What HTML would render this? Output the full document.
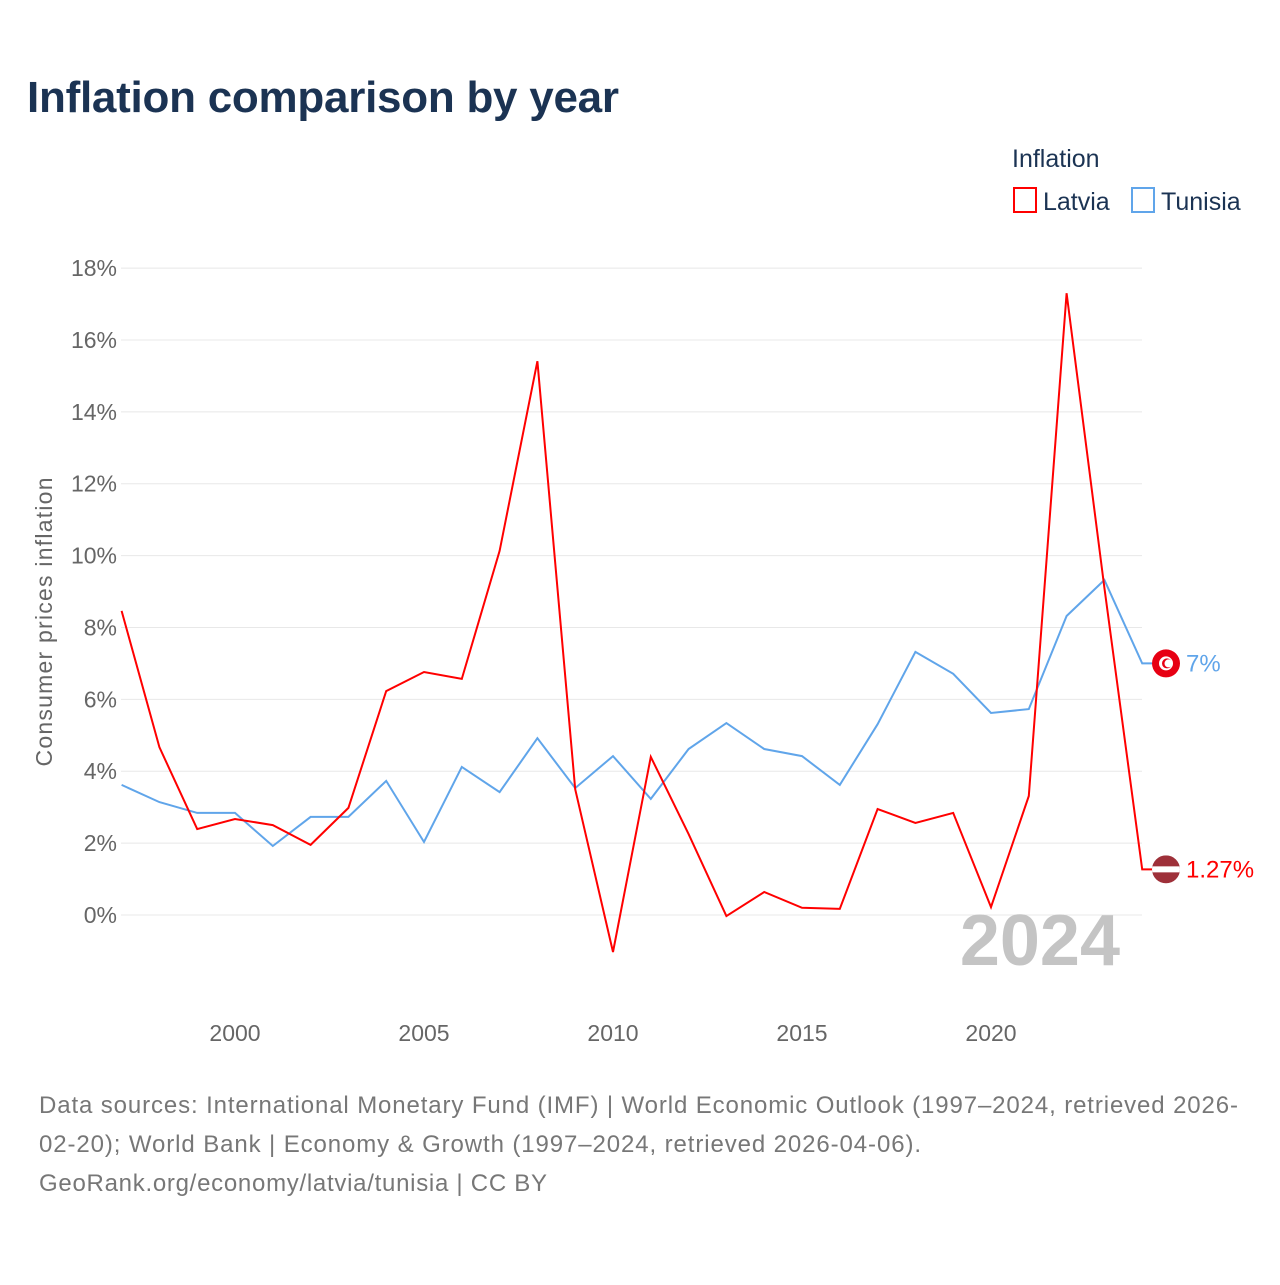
<!DOCTYPE html>
<html><head><meta charset="utf-8"><style>
body{margin:0;background:#fff;font-family:"Liberation Sans",sans-serif;}
svg text{font-family:"Liberation Sans",sans-serif;}
</style></head><body>
<svg id="chart" width="1280" height="1280" viewBox="0 0 1280 1280">
<rect width="1280" height="1280" fill="#fff"/>
<text x="27" y="112" font-size="44" font-weight="bold" fill="#1b3353" textLength="592">Inflation comparison by year</text>
<text x="1012" y="167" font-size="25" fill="#1b3353">Inflation</text>
<g><rect x="1014" y="188" width="22" height="24" fill="none" stroke="#ff0000" stroke-width="2"/><text x="1043" y="210" font-size="25" fill="#1b3353">Latvia</text></g>
<g><rect x="1132" y="188" width="22" height="24" fill="none" stroke="#60a5ea" stroke-width="2"/><text x="1161" y="210" font-size="25" fill="#1b3353">Tunisia</text></g>
<g id="grid"></g><g id="xaxis"></g><g id="series"></g>
<text x="52" y="622" font-size="23" fill="#666" transform="rotate(-90 52 622)" text-anchor="middle" textLength="289">Consumer prices inflation</text>
<text x="1120" y="965" font-size="72" font-weight="bold" fill="#c4c4c4" text-anchor="end">2024</text>
<g font-size="24" fill="#777">
<text x="39" y="1113" textLength="1199">Data sources: International Monetary Fund (IMF) | World Economic Outlook (1997–2024, retrieved 2026-</text>
<text x="39" y="1152" textLength="882">02-20); World Bank | Economy &amp; Growth (1997–2024, retrieved 2026-04-06).</text>
<text x="39" y="1191" textLength="508">GeoRank.org/economy/latvia/tunisia | CC BY</text>
</g>
</svg>
<script>
const years=[];for(let y=1997;y<=2024;y++)years.push(y);
const latvia=[8.46,4.67,2.39,2.67,2.5,1.95,2.98,6.23,6.76,6.57,10.13,15.41,3.5,-1.03,4.4,2.25,-0.03,0.64,0.2,0.17,2.95,2.56,2.84,0.22,3.31,17.3,9.1,1.27];
const tunisia=[3.62,3.14,2.84,2.84,1.92,2.73,2.73,3.73,2.03,4.12,3.42,4.92,3.53,4.42,3.23,4.62,5.34,4.62,4.42,3.62,5.31,7.32,6.71,5.62,5.73,8.32,9.32,7.0];
const yTicks=[0,2,4,6,8,10,12,14,16,18];
const xTicks=[2000,2005,2010,2015,2020];
const X=y=>121.6+(y-1997)*37.8;
const Y=v=>915-v*35.94;
const NS="http://www.w3.org/2000/svg";
function mk(t,a,p){const e=document.createElementNS(NS,t);for(const k in a)e.setAttribute(k,a[k]);p.appendChild(e);return e;}
const grid=document.getElementById('grid');
yTicks.forEach(v=>{
 const l=mk('line',{x1:121,x2:1142,y1:Y(v),y2:Y(v),stroke:'#e8e8e8','stroke-width':1},grid);
 
 
 const t=mk('text',{x:117,y:Y(v)+8,'font-size':23,fill:'#666','text-anchor':'end'},grid);
 t.textContent=v+'%';
 
 
});
const xa=document.getElementById('xaxis');
xTicks.forEach(v=>{
 const t=mk('text',{x:X(v),y:1041,'font-size':23,fill:'#666','text-anchor':'middle'},xa);
 t.textContent=v;
 
 
});
const sg=document.getElementById('series');
function series(vals,color,name,label){
 const pts=vals.map((v,i)=>X(years[i]).toFixed(1)+','+Y(v).toFixed(1));
 const last=vals[vals.length-1];
 pts.push((X(2024)+10)+','+Y(last).toFixed(1));
 const p=mk('polyline',{points:pts.join(' '),fill:'none',stroke:color,'stroke-width':2},sg);
 
 
 const g=mk('g',{},sg);
 
 
 const cx=1166,cy=Y(last);
 if(name==='tunisia'){
  mk('circle',{cx:cx,cy:cy,r:14,fill:'#e70013'},g);
  mk('circle',{cx:cx,cy:cy,r:7,fill:'#fff'},g);
  mk('circle',{cx:cx+1,cy:cy,r:5,fill:'#e70013'},g);
  mk('circle',{cx:cx+2.5,cy:cy,r:4,fill:'#fff'},g);
 }else{
  const cp=mk('clipPath',{id:'lvclip'},g);mk('circle',{cx:cx,cy:cy,r:14},cp);
  mk('rect',{x:cx-14,y:cy-14,width:28,height:28,fill:'#9e3039','clip-path':'url(#lvclip)'},g);
  mk('rect',{x:cx-14,y:cy-3,width:28,height:6,fill:'#fff','clip-path':'url(#lvclip)'},g);
 }
 const t=mk('text',{x:1186,y:cy+8,'font-size':24,fill:color},sg);
 t.textContent=label;
 
 
}
series(tunisia,'#60a5ea','tunisia','7%');
series(latvia,'#ff0000','latvia','1.27%');
</script>
</body></html>
